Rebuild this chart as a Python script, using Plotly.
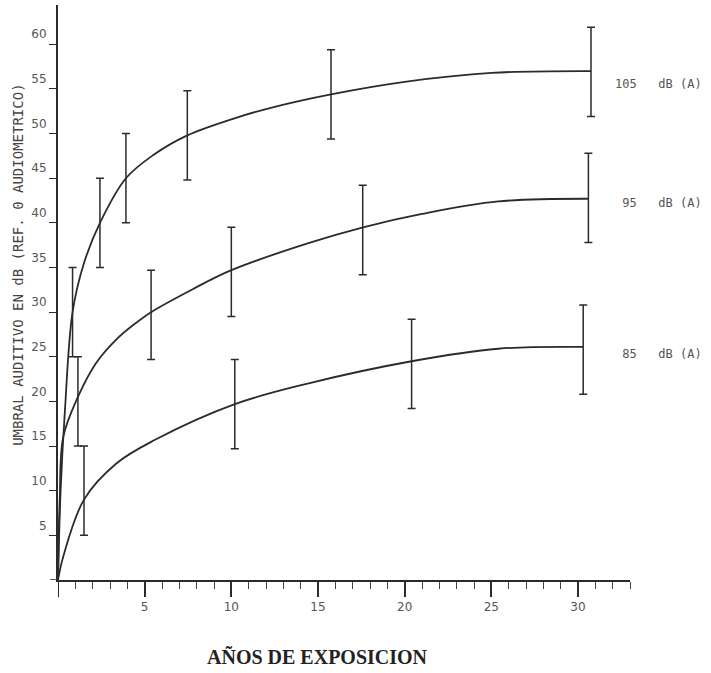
import plotly.graph_objects as go

# ---- data ----
# smooth curves (years of exposure, hearing threshold dB)
curve105_x = [0, 0.15, 0.4, 0.84, 1.5, 2.42, 3.92, 5.5, 7.46, 10, 12.5, 15.75, 20, 25, 30.75]
curve105_y = [0, 10, 19, 30, 35.5, 40, 45, 47.6, 49.8, 51.6, 53, 54.4, 55.8, 56.8, 57]
curve95_x = [0, 0.1, 0.3, 1.15, 2.2, 3.4, 4.3, 5.37, 7.8, 10, 14.4, 17.6, 21, 25.4, 30.6]
curve95_y = [0, 9, 16, 20.5, 24.3, 27.0, 28.5, 30, 32.6, 34.7, 37.7, 39.5, 41, 42.4, 42.7]
curve85_x = [0, 0.3, 1.5, 3.4, 5.6, 10.2, 14.4, 20.4, 25.4, 30.3]
curve85_y = [0, 2.6, 9, 13.1, 15.7, 19.7, 22, 24.5, 25.9, 26.1]

# error bars (centre and half-height)
bars105_x = [0.84, 2.42, 3.92, 7.46, 15.75, 30.75]
bars105_y = [30, 40, 45, 49.8, 54.4, 56.9]
bars105_e = [5, 5, 5, 5, 5, 5]
bars95_x = [1.15, 5.37, 10.0, 17.58, 30.6]
bars95_y = [20, 29.7, 34.5, 39.2, 42.8]
bars95_e = [5, 5, 5, 5, 5]
bars85_x = [1.5, 10.2, 20.4, 30.3]
bars85_y = [10, 19.7, 24.2, 25.8]
bars85_e = [5, 5, 5, 5]

series_labels = ["105   dB (A)", " 95   dB (A)", " 85   dB (A)"]
label_y = [55.6, 42.2, 25.3]

x_ticks = [5, 10, 15, 20, 25, 30]
y_ticks = [5, 10, 15, 20, 25, 30, 35, 40, 45, 50, 55, 60]

INK = "#2b2b2b"

fig = go.Figure()
for cx, cy in [(curve105_x, curve105_y), (curve95_x, curve95_y), (curve85_x, curve85_y)]:
    fig.add_trace(go.Scatter(x=cx, y=cy, mode="lines",
                             line=dict(color=INK, width=1.8, shape="spline", smoothing=1.0),
                             hoverinfo="skip"))
for bx, by, be in [(bars105_x, bars105_y, bars105_e), (bars95_x, bars95_y, bars95_e),
                   (bars85_x, bars85_y, bars85_e)]:
    fig.add_trace(go.Scatter(x=bx, y=by, mode="markers",
                             marker=dict(size=2, color="rgba(0,0,0,0)"),
                             error_y=dict(type="data", array=be, visible=True,
                                          color=INK, thickness=1.5, width=4)))

for txt, ly in zip(series_labels, label_y):
    fig.add_annotation(x=32.0, y=ly, xref="x", yref="y", text=txt, showarrow=False,
                       xanchor="left", yanchor="middle",
                       font=dict(family="DejaVu Sans Mono", size=12, color="#555"))

fig.add_annotation(x=-0.07, y=0.548, xref="paper", yref="paper",
                   text="UMBRAL AUDITIVO EN dB (REF. 0 AUDIOMETRICO)",
                   textangle=-90, showarrow=False, xanchor="center", yanchor="middle",
                   font=dict(family="DejaVu Sans Mono", size=14, color="#444"))
fig.add_annotation(x=0.4545, y=-0.134, xref="paper", yref="paper",
                   text="<b>AÑOS DE EXPOSICION</b>", showarrow=False,
                   xanchor="center", yanchor="middle",
                   font=dict(family="Liberation Serif", size=20, color="#222"))

# small overshoot of the two axis lines past the origin
fig.add_shape(type="line", xref="x", yref="paper", x0=0, x1=0, y0=0, y1=-0.03,
              line=dict(color=INK, width=2))
fig.add_shape(type="line", xref="paper", yref="y", x0=-0.014, x1=0, y0=0, y1=0,
              line=dict(color=INK, width=1.5))

fig.update_layout(
    width=711, height=673,
    margin=dict(l=58, r=81, t=5, b=93),
    paper_bgcolor="white", plot_bgcolor="white",
    showlegend=False,
    xaxis=dict(range=[0, 33], showline=True, linecolor=INK, linewidth=1.5,
               showgrid=False, zeroline=False,
               tickmode="array", tickvals=x_ticks, ticks="outside", ticklen=15,
               tickwidth=1.5, tickcolor=INK,
               minor=dict(dtick=1, tick0=0, ticks="outside", ticklen=7,
                          tickwidth=1.2, tickcolor="#444"),
               tickfont=dict(family="DejaVu Sans", size=12, color="#555")),
    yaxis=dict(range=[0, 64.4], showline=True, linecolor=INK, linewidth=2,
               showgrid=False, zeroline=False,
               tickmode="array", tickvals=y_ticks, ticks="outside", ticklen=7,
               tickwidth=1.3, tickcolor=INK, ticklabelshift=-10,
               tickfont=dict(family="DejaVu Sans", size=12, color="#555")),
)

fig.write_html("out.html")
